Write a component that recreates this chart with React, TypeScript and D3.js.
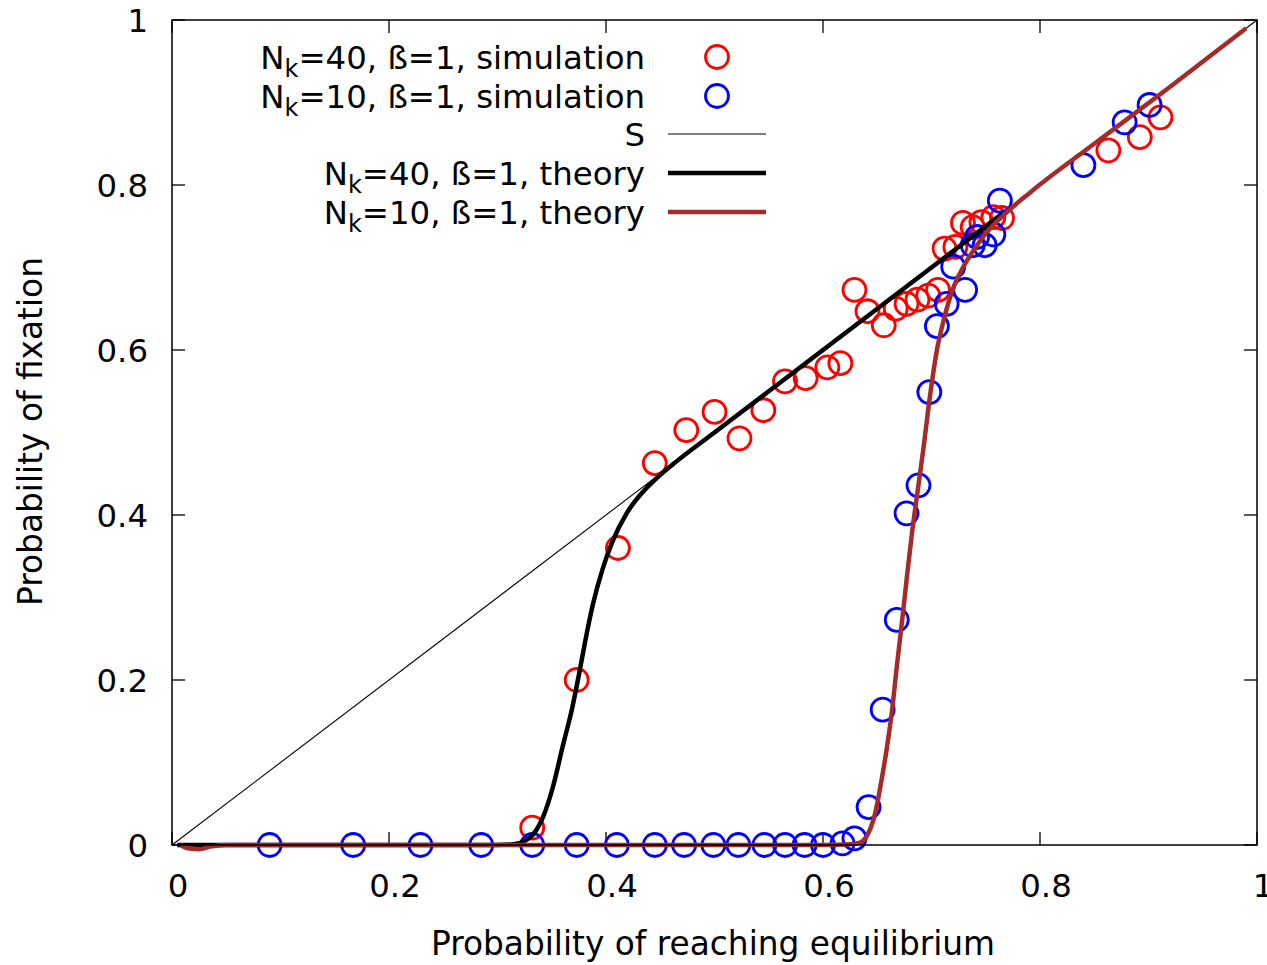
import React from "react";
import * as d3 from "d3";

const W = 1267;
const H = 965;

// ---------- data ----------
const ticks = [0, 0.2, 0.4, 0.6, 0.8, 1];
const tickLabels = ["0", "0.2", "0.4", "0.6", "0.8", "1"];

const simN40: [number, number][] = [
  [0.332, 0.021], [0.373, 0.2], [0.411, 0.36], [0.445, 0.463], [0.474, 0.503],
  [0.5, 0.525], [0.523, 0.493], [0.545, 0.527], [0.565, 0.562], [0.584, 0.566],
  [0.604, 0.579], [0.616, 0.584], [0.629, 0.673], [0.641, 0.647], [0.656, 0.63],
  [0.667, 0.65], [0.677, 0.656], [0.687, 0.661], [0.697, 0.666], [0.706, 0.673],
  [0.712, 0.723], [0.722, 0.725], [0.729, 0.754], [0.738, 0.749], [0.746, 0.755],
  [0.757, 0.761], [0.765, 0.76], [0.863, 0.842], [0.892, 0.858], [0.911, 0.882],
];

const simN10: [number, number][] = [
  [0.09, 0], [0.167, 0], [0.229, 0], [0.285, 0], [0.332, 0], [0.373, 0],
  [0.41, 0], [0.445, 0], [0.472, 0], [0.499, 0], [0.522, 0], [0.546, 0],
  [0.565, 0], [0.583, 0], [0.6, 0], [0.618, 0.002], [0.629, 0.008],
  [0.642, 0.046], [0.655, 0.164], [0.668, 0.273], [0.677, 0.402], [0.688, 0.436],
  [0.698, 0.549], [0.705, 0.629], [0.714, 0.656], [0.72, 0.701], [0.731, 0.673],
  [0.738, 0.727], [0.742, 0.737], [0.749, 0.727], [0.757, 0.74], [0.763, 0.781],
  [0.84, 0.824], [0.878, 0.876], [0.901, 0.897],
];

const lineS: [number, number][] = [[0, 0], [1, 1]];

const theoryN40: [number, number][] = [
  [0.005, 0], [0.1, 0], [0.2, 0], [0.3, 0], [0.315, 0.001], [0.325, 0.005],
  [0.333, 0.013], [0.342, 0.034], [0.351, 0.07], [0.36, 0.119], [0.369, 0.167],
  [0.375, 0.206], [0.381, 0.248], [0.388, 0.292], [0.397, 0.335], [0.406, 0.368],
  [0.419, 0.402], [0.434, 0.428], [0.447, 0.445], [0.465, 0.465], [0.5, 0.5],
  [0.6, 0.6], [0.7, 0.7], [0.765, 0.765],
];

const theoryN10: [number, number][] = [
  [0.008, 0], [0.015, -0.004], [0.025, -0.005], [0.035, -0.002], [0.05, 0],
  [0.3, 0], [0.6, 0], [0.625, 0.001], [0.634, 0.003], [0.64, 0.01], [0.648, 0.038],
  [0.654, 0.079], [0.659, 0.119], [0.664, 0.167], [0.668, 0.216], [0.673, 0.273],
  [0.677, 0.321], [0.682, 0.378], [0.687, 0.427], [0.692, 0.475], [0.699, 0.548],
  [0.705, 0.6], [0.711, 0.635], [0.72, 0.675], [0.729, 0.7], [0.74, 0.723],
  [0.751, 0.743], [0.766, 0.763], [0.791, 0.791], [0.85, 0.85], [0.92, 0.919],
  [0.99, 0.99],
];

const xLabel = "Probability of reaching equilibrium";
const yLabel = "Probability of fixation";

const legendItems = [
  { pre: "N", sub: "k", post: "=40, ß=1, simulation", kind: "circle", color: "#ff0000" },
  { pre: "N", sub: "k", post: "=10, ß=1, simulation", kind: "circle", color: "#0000ff" },
  { pre: "S", sub: "", post: "", kind: "thin", color: "#000000" },
  { pre: "N", sub: "k", post: "=40, ß=1, theory", kind: "thick", color: "#000000" },
  { pre: "N", sub: "k", post: "=10, ß=1, theory", kind: "thick", color: "#a52a2a" },
];

// ---------- layout ----------
const L = 172, R = 1257, T = 20, B = 845;
const FONT = "DejaVu Sans, sans-serif";
const FS = 32.4;
const FSL = 32.8;
const TICK = 13;
const CR = 11.5;

export default function App() {
  const x = d3.scaleLinear().domain([0, 1]).range([L, R]);
  const y = d3.scaleLinear().domain([0, 1]).range([B, T]);
  const line = d3.line<[number, number]>().x((d) => x(d[0])).y((d) => y(d[1]));
  const curve = d3
    .line<[number, number]>()
    .x((d) => x(d[0]))
    .y((d) => y(d[1]))
    .curve(d3.curveMonotoneX);

  const legX = 645;
  const legRows = [57, 96, 134, 173, 212];

  return (
    <svg
      width={W}
      height={H}
      style={{ position: "absolute", left: 0, top: 0, background: "#fff" }}
      fontFamily={FONT}
    >
      <rect x={0} y={0} width={W} height={H} fill="#fff" />
      {/* ticks */}
      {ticks.map((t, i) => (
        <g key={"t" + i} stroke="#000" strokeWidth={1.3}>
          <line x1={x(t)} x2={x(t)} y1={B} y2={B - TICK} />
          <line x1={x(t)} x2={x(t)} y1={T} y2={T + TICK} />
          <line x1={L} x2={L + TICK} y1={y(t)} y2={y(t)} />
          <line x1={R} x2={R - TICK} y1={y(t)} y2={y(t)} />
        </g>
      ))}
      {/* tick labels */}
      {ticks.map((t, i) => (
        <text key={"xl" + i} x={x(t) + 6} y={897} fontSize={FS} textAnchor="middle" fill="#000">
          {tickLabels[i]}
        </text>
      ))}
      {ticks.map((t, i) => (
        <text key={"yl" + i} x={148} y={y(t) + 11.5} fontSize={FS} textAnchor="end" fill="#000">
          {tickLabels[i]}
        </text>
      ))}
      {/* axis labels */}
      <text x={713} y={955} fontSize={FSL} textAnchor="middle" fill="#000">
        {xLabel}
      </text>
      <text
        transform={`translate(42, 431.5) rotate(-90)`}
        fontSize={FSL}
        textAnchor="middle"
        fill="#000"
      >
        {yLabel}
      </text>

      {/* simulation points */}
      {simN40.map((d, i) => (
        <circle key={"r" + i} cx={x(d[0])} cy={y(d[1])} r={CR} fill="none" stroke="#ff0000" strokeWidth={2.8} />
      ))}
      {simN10.map((d, i) => (
        <circle key={"b" + i} cx={x(d[0])} cy={y(d[1])} r={CR} fill="none" stroke="#0000ff" strokeWidth={2.8} />
      ))}

      {/* lines */}
      <path d={line(lineS) || ""} fill="none" stroke="#000" strokeWidth={1.1} />
      <path d={curve(theoryN40) || ""} fill="none" stroke="#000" strokeWidth={4.5} />
      <path d={curve(theoryN10) || ""} fill="none" stroke="#a52a2a" strokeWidth={4.5} />

      {/* frame */}
      <rect x={L} y={T} width={R - L} height={B - T} fill="none" stroke="#000" strokeWidth={1.5} />

      {/* legend */}
      {legendItems.map((it, i) => {
        const ry = legRows[i];
        return (
          <g key={"lg" + i}>
            <text x={legX} y={ry + 11.5} fontSize={FS} textAnchor="end" fill="#000">
              {it.pre}
              {it.sub ? (
                <tspan fontSize={24} dy={8}>
                  {it.sub}
                </tspan>
              ) : null}
              {it.post ? <tspan dy={it.sub ? -8 : 0}>{it.post}</tspan> : null}
            </text>
            {it.kind === "circle" ? (
              <circle cx={717} cy={ry} r={CR} fill="none" stroke={it.color} strokeWidth={2.8} />
            ) : (
              <line
                x1={668}
                x2={766}
                y1={ry}
                y2={ry}
                stroke={it.color}
                strokeWidth={it.kind === "thin" ? 1.1 : 4.5}
              />
            )}
          </g>
        );
      })}
    </svg>
  );
}
